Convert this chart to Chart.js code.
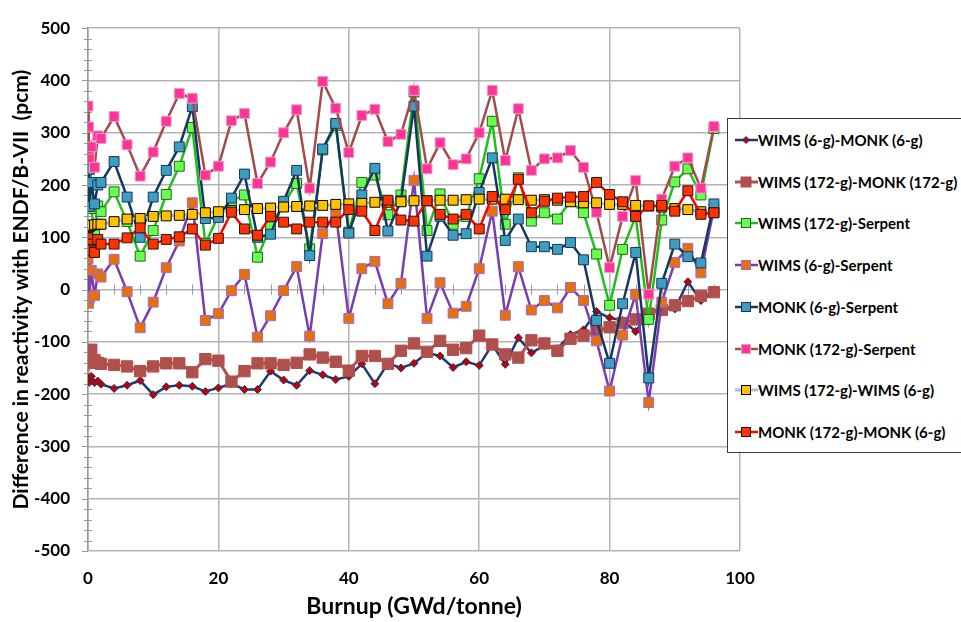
<!DOCTYPE html>
<html>
<head>
<meta charset="utf-8">
<script src="https://cdn.jsdelivr.net/npm/chart.js@4.4.1/dist/chart.umd.min.js"></script>
<style>
body { margin: 0; background: #fff; overflow: hidden; }
#wrap { position: relative; width: 961px; height: 622px; overflow: hidden; }
#legend { position: absolute; left: 727px; top: 118px; width: 260px; height: 333px; border: 1px solid #3a3a3a; background: #fff; font: bold 15px Lato, sans-serif; color: #000; }
.item { position: absolute; left: 7px; height: 20px; display: flex; align-items: center; white-space: nowrap; }
</style>
</head>
<body>
<div id="wrap">
  <canvas id="chart" width="961" height="622"></canvas>
  <div id="legend"></div>
</div>
<script>
// burnup steps (GWd/tonne)
const burnup = [0, 0.1, 0.2, 0.5, 1, 1.5, 2, 4, 6, 8, 10, 12, 14, 16, 18, 20, 22, 24, 26, 28, 30, 32, 34, 36, 38, 40,
    42, 44, 46, 48, 50, 52, 54, 56, 58, 60, 62, 64, 66, 68, 70, 72, 74, 76, 78, 80, 82, 84, 86, 88, 90, 92, 94, 96];

const seriesNames = ['WIMS (6-g)-MONK (6-g)', 'WIMS (172-g)-MONK (172-g)', 'WIMS (172-g)-Serpent', 'WIMS (6-g)-Serpent',
    'MONK (6-g)-Serpent', 'MONK (172-g)-Serpent', 'WIMS (172-g)-WIMS (6-g)', 'MONK (172-g)-MONK (6-g)'];

const wims6Monk6 = [-168, -172, -177, -166, -178, -175, -181, -189, -183, -174, -201, -186, -183, -185, -195, -188,
    -180, -191, -191, -156, -173, -183, -155, -163, -172, -166, -142, -180, -141, -150, -141, -121, -127, -149, -138, -145,
    -105, -143, -92, -121, -107, -113, -86, -77, -42, -54, -59, -80, -45, -36, -37, 15, -21, -5];
const wims172Monk172 = [-118, -127, -140, -115, -135, -140, -142, -144, -147, -156, -147, -141, -141, -158, -133, -136,
    -176, -156, -141, -141, -144, -140, -124, -130, -138, -155, -127, -127, -142, -117, -103, -119, -98, -115, -112, -88,
    -105, -124, -130, -97, -103, -117, -94, -88, -80, -72, -64, -57, -46, -39, -30, -22, -12, -5];
const wims172Serp = [198, 177, 158, 155, 108, 160, 149, 187, 130, 64, 113, 182, 236, 310, 88, 142,
    170, 181, 62, 120, 165, 203, 78, 267, 314, 110, 205, 219, 143, 181, 378, 113, 183, 125, 140, 212,
    322, 125, 214, 131, 147, 135, 169, 147, 68, -30, 77, 140, -57, 133, 206, 231, 181, 308];
const wims6Serp = [59, -26, -15, 37, -11, 30, 24, 58, -4, -73, -24, 42, 93, 166, -59, -46,
    -2, 29, -91, -50, -2, 44, -89, 107, 148, -55, 40, 54, -27, 12, 209, -55, 13, -45, -32, 40,
    150, -49, 44, -39, -21, -35, 4, -21, -98, -194, -87, -9, -216, -24, 52, 79, 32, 155];
const monk6Serp = [255, 230, 159, 205, 164, 200, 205, 245, 177, 100, 177, 228, 273, 350, 136, 138,
    175, 221, 100, 106, 169, 228, 65, 269, 318, 108, 181, 232, 112, 170, 351, 64, 140, 104, 107, 186,
    252, 94, 135, 82, 82, 77, 90, 57, -59, -141, -27, 71, -169, 12, 87, 63, 51, 164];
const monk172Serp = [351, 311, 250, 273, 234, 294, 289, 331, 277, 217, 263, 322, 375, 366, 219, 236,
    323, 337, 203, 244, 300, 344, 194, 398, 347, 262, 333, 345, 283, 297, 381, 231, 281, 239, 250, 300,
    381, 247, 346, 228, 250, 252, 266, 234, 148, 42, 140, 209, -9, 173, 236, 252, 194, 312];
const wims172Wims6 = [119, 120, 121, 123, 124, 125, 125, 130, 135, 136, 140, 141, 142, 144, 147, 149,
    151, 153, 155, 156, 158, 159, 160, 161, 163, 164, 165, 167, 167, 168, 170, 170, 171, 171, 172, 173,
    173, 173, 172, 171, 172, 171, 168, 166, 166, 163, 163, 161, 160, 158, 155, 153, 149, 147];
const monk172Monk6 = [99, 87, 77, 74, 71, 96, 87, 87, 99, 118, 87, 96, 101, 116, 85, 98,
    148, 116, 104, 140, 129, 116, 129, 129, 129, 153, 150, 113, 171, 133, 131, 170, 144, 135, 144, 116,
    178, 153, 211, 147, 169, 175, 177, 178, 205, 182, 168, 140, 160, 161, 150, 189, 144, 147];

const yTicks = [-500, -400, -300, -200, -100, 0, 100, 200, 300, 400, 500];
const xTicks = [0, 20, 40, 60, 80, 100];

const allSeries = [wims6Monk6, wims172Monk172, wims172Serp, wims6Serp, monk6Serp, monk172Serp, wims172Wims6, monk172Monk6];

// line colour, marker fill, marker border, marker shape, marker radius, line width
const looks = [
    { line: '#1f3a6e', fill: '#c00000', border: '#1f3a6e', shape: 'rectRot', r: 4, w: 2.5 },
    { line: '#b0504d', fill: '#b0504d', border: '#b0504d', shape: 'rect', r: 8, w: 3 },
    { line: '#1fbf1f', fill: '#66ff4d', border: '#2e5e22', shape: 'rect', r: 7, w: 2.5 },
    { line: '#7a3db0', fill: '#e8700a', border: '#9b6ad0', shape: 'rect', r: 7, w: 2.5 },
    { line: '#17375e', fill: '#3d9ec0', border: '#17375e', shape: 'rect', r: 7, w: 2.5 },
    { line: '#a24b4b', fill: '#ff3399', border: '#e8a0c0', shape: 'rect', r: 7, w: 2.5 },
    { line: '#a8c0e0', fill: '#ffc000', border: '#000000', shape: 'rect', r: 7, w: 3 },
    { line: '#ff0000', fill: '#ff3300', border: '#1a1a1a', shape: 'rect', r: 7, w: 2.5 }
];

const datasets = allSeries.map((vals, i) => ({
    label: seriesNames[i],
    data: vals.map((v, k) => ({ x: burnup[k], y: v })),
    borderColor: looks[i].line,
    borderWidth: looks[i].w,
    backgroundColor: looks[i].fill,
    pointStyle: looks[i].shape,
    pointRadius: looks[i].r,
    pointBackgroundColor: looks[i].fill,
    pointBorderColor: looks[i].border,
    pointBorderWidth: 1,
    tension: 0,
    order: allSeries.length - i
}));

// minor tick marks on the y axis and on the zero line
const minorTicks = {
    id: 'minorTicks',
    beforeDatasetsDraw(chart) {
        const { ctx, scales: { x, y } } = chart;
        ctx.save();
        ctx.strokeStyle = '#999';
        ctx.lineWidth = 1;
        ctx.beginPath();
        for (let v = -500; v <= 500; v += 20) {
            const py = Math.round(y.getPixelForValue(v)) + 0.5;
            if (v % 100 === 0) {
                ctx.moveTo(x.left - 6, py);
                ctx.lineTo(x.left, py);
            } else {
                ctx.moveTo(x.left - 4, py);
                ctx.lineTo(x.left + 4, py);
            }
        }
        const zy = y.getPixelForValue(0);
        for (let v = 4; v < 100; v += 4) {
            if (v % 20 === 0) continue;
            const px = Math.round(x.getPixelForValue(v)) + 0.5;
            ctx.moveTo(px, zy - 5);
            ctx.lineTo(px, zy + 5);
        }
        ctx.stroke();
        ctx.restore();
    }
};

const gridColor = '#b4b4b4';

new Chart(document.getElementById('chart'), {
    type: 'line',
    data: { datasets },
    options: {
        responsive: false,
        animation: false,
        devicePixelRatio: 1,
        layout: { padding: { top: 16, right: 221, bottom: 0, left: 0 } },
        plugins: { legend: { display: false }, tooltip: { enabled: false } },
        scales: {
            x: {
                type: 'linear',
                min: 0,
                max: 100,
                afterBuildTicks: s => { s.ticks = xTicks.map(v => ({ value: v })); },
                afterFit: s => { s.height = 71; },
                grid: { color: gridColor, lineWidth: 1.5, drawTicks: false },
                border: { display: false },
                ticks: { padding: 17, color: '#000', font: { family: 'Lato', weight: 'bold', size: 17 } },
                title: {
                    display: true,
                    text: 'Burnup (GWd/tonne)',
                    color: '#000',
                    font: { family: 'Lato', weight: 'bold', size: 23 },
                    padding: { top: 0, bottom: 2 }
                }
            },
            y: {
                min: -500,
                max: 500,
                afterBuildTicks: s => { s.ticks = yTicks.map(v => ({ value: v })); },
                afterFit: s => { s.width = 88; },
                grid: { color: gridColor, lineWidth: 1.5, drawTicks: false },
                border: { display: true, color: '#9a9a9a', width: 1.5 },
                ticks: { padding: 18, color: '#000', font: { family: 'Lato', weight: 'bold', size: 17 } },
                title: {
                    display: true,
                    text: 'Difference in reactivity with ENDF/B-VII  (pcm)',
                    color: '#000',
                    font: { family: 'Lato', weight: 'bold', size: 21 },
                    padding: { top: 9, bottom: 0 }
                }
            }
        }
    },
    plugins: [minorTicks]
});

// legend box (overlaps the right edge of the plot, as in the original)
const legend = document.getElementById('legend');
seriesNames.forEach((name, i) => {
    const lk = looks[i];
    const row = document.createElement('div');
    row.className = 'item';
    row.style.top = (11 + i * 41.7) + 'px';
    let mark;
    if (lk.shape === 'rectRot') {
        mark = `<polygon points="11,3.5 14.5,7 11,10.5 7.5,7" fill="${lk.fill}" stroke="${lk.border}" stroke-width="1"/>`;
    } else {
        const s = lk.r === 8 ? 10 : 9;
        mark = `<rect x="${11 - s / 2}" y="${7 - s / 2}" width="${s}" height="${s}" fill="${lk.fill}" stroke="${lk.border}" stroke-width="1"/>`;
    }
    row.innerHTML = `<svg width="23" height="14" viewBox="0 0 23 14"><line x1="0" y1="7" x2="23" y2="7" stroke="${lk.line}" stroke-width="${lk.w}"/>${mark}</svg><span>${name}</span>`;
    legend.appendChild(row);
});
</script>
</body>
</html>
